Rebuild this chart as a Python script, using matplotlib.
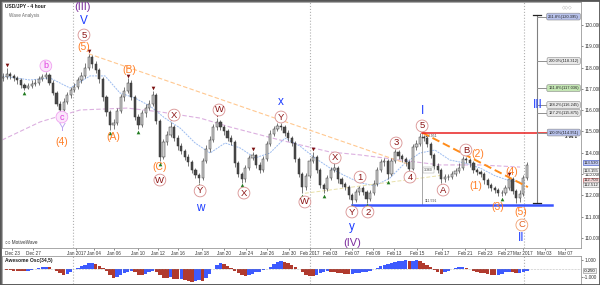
import matplotlib
matplotlib.use("Agg")
import matplotlib.pyplot as plt
from matplotlib.patches import Rectangle

plt.rcParams['font.family'] = ['Liberation Sans', 'DejaVu Sans']

# USD/JPY, 8-hour steps (Dec 22 2016 - Mar 01 2017)
closes = [117.55, 117.70, 117.60, 117.50, 117.40, 117.20, 117.05, 117.15, 117.25, 117.30,
          117.45, 117.55, 117.65, 117.30, 116.80, 116.30, 116.00, 116.40, 116.70, 116.95,
          117.10, 117.40, 117.60, 118.00, 118.50, 118.15, 117.90, 117.45, 116.60, 115.90,
          115.30, 115.40, 115.95, 116.60, 116.90, 117.30, 116.60, 115.70, 115.30, 115.85,
          116.10, 116.30, 116.70, 115.50, 113.80, 114.50, 114.85, 115.20, 114.70, 114.30,
          114.10, 113.80, 113.55, 113.20, 112.95, 112.80, 113.60, 114.20, 114.60, 115.20,
          115.45, 115.20, 115.00, 114.70, 114.50, 113.50, 113.00, 112.75, 113.30, 113.75,
          113.90, 113.45, 113.20, 113.70, 114.40, 114.90, 115.10, 115.25, 115.20, 114.95,
          114.70, 114.45, 113.70, 113.00, 112.40, 112.90, 113.60, 113.80, 113.20, 112.50,
          112.30, 112.80, 113.20, 113.30, 112.75, 112.55, 112.40, 112.00, 111.80, 112.15,
          112.35, 112.15, 111.85, 112.10, 112.55, 113.20, 113.55, 113.60, 113.00, 113.60,
          114.05, 113.85, 113.70, 113.55, 113.25, 114.25, 114.40, 114.75, 114.70, 114.40,
          113.90, 113.40, 113.20, 112.75, 112.85, 112.85, 113.00, 113.15, 113.30, 113.70,
          113.65, 113.50, 113.20, 113.10, 113.00, 112.70, 112.50, 112.35, 112.25, 112.10,
          112.10, 112.35, 112.75, 112.20, 111.90, 112.05, 112.80, 113.45]
highs = [117.75, 117.98, 117.80, 117.70, 117.60, 117.50, 117.30, 117.30, 117.40, 117.45,
         117.60, 117.70, 117.80, 117.75, 117.40, 116.90, 116.45, 116.55, 116.85, 117.10,
         117.30, 117.55, 117.80, 118.20, 118.65, 118.60, 118.30, 118.00, 117.55, 116.70,
         116.00, 115.60, 116.10, 116.75, 117.10, 117.50, 117.40, 116.70, 115.80, 116.00,
         116.30, 116.50, 116.90, 116.80, 115.60, 114.65, 115.00, 115.45, 115.30, 114.85,
         114.45, 114.20, 113.95, 113.65, 113.30, 113.05, 113.75, 114.35, 114.80, 115.35,
         115.65, 115.55, 115.30, 115.10, 114.85, 114.60, 113.60, 113.10, 113.45, 113.90,
         114.05, 113.95, 113.55, 113.85, 114.55, 115.05, 115.25, 115.40, 115.38, 115.30,
         115.05, 114.80, 114.55, 113.80, 113.10, 113.05, 113.75, 114.05, 113.90, 113.30,
         112.60, 112.95, 113.35, 113.55, 113.40, 112.85, 112.65, 112.50, 112.10, 112.30,
         112.45, 112.45, 112.25, 112.25, 112.70, 113.35, 113.70, 113.75, 113.70, 113.75,
         114.20, 114.15, 113.95, 113.80, 113.65, 114.40, 114.60, 114.95, 114.85, 114.80,
         114.50, 114.00, 113.50, 113.30, 113.00, 113.00, 113.15, 113.30, 113.50, 113.85,
         113.80, 113.75, 113.60, 113.30, 113.20, 113.10, 112.80, 112.60, 112.45, 112.35,
         112.25, 112.50, 112.90, 112.85, 112.30, 112.25, 112.95, 113.55]
lows = [117.35, 117.45, 117.45, 117.35, 117.25, 117.05, 116.95, 116.98, 117.05, 117.15,
        117.20, 117.35, 117.45, 117.20, 116.70, 116.20, 115.90, 115.95, 116.30, 116.55,
        116.85, 117.00, 117.30, 117.50, 117.90, 118.00, 117.75, 117.30, 116.45, 115.75,
        115.05, 115.10, 115.30, 115.85, 116.45, 116.80, 116.50, 115.55, 115.10, 115.20,
        115.70, 116.00, 116.20, 115.35, 113.60, 113.70, 114.35, 114.75, 114.55, 114.15,
        113.95, 113.65, 113.40, 113.05, 112.80, 112.60, 112.70, 113.50, 114.05, 114.50,
        115.05, 115.05, 114.85, 114.55, 114.35, 113.35, 112.85, 112.60, 112.65, 113.20,
        113.65, 113.30, 113.05, 113.10, 113.60, 114.30, 114.80, 115.00, 115.05, 114.80,
        114.55, 114.30, 113.55, 112.85, 112.10, 112.25, 112.80, 113.50, 113.05, 112.35,
        112.10, 112.20, 112.70, 113.10, 112.60, 112.40, 112.25, 111.85, 111.60, 111.70,
        112.00, 112.00, 111.65, 111.75, 112.00, 112.45, 113.10, 113.40, 112.75, 112.90,
        113.50, 113.70, 113.55, 113.40, 113.10, 113.20, 114.15, 114.30, 114.55, 114.25,
        113.75, 113.25, 113.05, 112.60, 112.65, 112.70, 112.75, 112.90, 113.05, 113.20,
        113.50, 113.35, 113.05, 112.95, 112.85, 112.55, 112.35, 112.20, 112.10, 111.98,
        111.95, 112.00, 112.25, 112.05, 111.65, 111.70, 111.95, 112.70]
opens = [117.50] + closes[:-1]

# Awesome Oscillator (34,5)
ao = [-0.10, -0.15, -0.20, -0.22, -0.25, -0.28, -0.30, -0.28, -0.20, -0.10,
      0.05, 0.15, 0.20, 0.15, -0.05, -0.30, -0.55, -0.75, -0.60, -0.35,
      -0.10, 0.10, 0.30, 0.45, 0.60, 0.70, 0.55, 0.30, 0.05, -0.30,
      -0.70, -1.05, -1.00, -0.80, -0.55, -0.35, -0.30, -0.45, -0.70, -0.80,
      -0.65, -0.45, -0.30, -0.40, -0.80, -1.05, -1.10, -1.00, -1.15, -1.25,
      -1.15, -1.30, -1.40, -1.50, -1.45, -1.35, -1.40, -1.10, -0.60, -0.10,
      0.40, 0.70, 0.55, 0.30, 0.05, -0.25, -0.55, -0.80, -0.90, -0.80,
      -0.60, -0.45, -0.35, -0.20, -0.05, 0.20, 0.50, 0.75, 0.90, 0.80,
      0.60, 0.40, 0.20, -0.05, -0.40, -0.70, -0.85, -0.90, -0.75, -0.55,
      -0.40, -0.30, -0.35, -0.45, -0.50, -0.55, -0.60, -0.65, -0.60, -0.55,
      -0.50, -0.45, -0.35, -0.25, -0.10, 0.10, 0.30, 0.45, 0.50, 0.65,
      0.80, 0.85, 0.90, 0.95, 0.85, 0.90, 1.00, 0.90, 0.70, 0.45,
      0.15, -0.20, -0.45, -0.60, -0.45, -0.25, -0.10, 0.05, 0.15, 0.20,
      0.10, -0.10, -0.30, -0.40, -0.50, -0.55, -0.65, -0.75, -0.80, -0.80,
      -0.65, -0.45, -0.35, -0.45, -0.55, -0.50, -0.35, -0.25]

# bar positions of the date labels
date_pos = [2.5, 8.4, 20.5, 25.6, 31.1, 37.9, 43.5, 49.1, 55.8, 62.0, 68.2, 74.1, 80.2,
            86.1, 91.7, 97.9, 103.8, 109.7, 116.2, 123.2, 129.6, 135.3, 140.9, 146.0,
            152.0, 157.8]
date_lbl = ['Dec 23', 'Dec 27', 'Jan 2017', 'Jan 04', 'Jan 06', 'Jan 10', 'Jan 12',
            'Jan 16', 'Jan 18', 'Jan 20', 'Jan 24', 'Jan 26', 'Jan 30', 'Feb 2017',
            'Feb 03', 'Feb 07', 'Feb 09', 'Feb 13', 'Feb 15', 'Feb 17', 'Feb 21',
            'Feb 23', 'Feb 27', 'Mar 2017', 'Mar 03', 'Mar 07']
month_lines = [19.6, 86.2, 146.2]

# pivot markers (bar index)
high_marks = [1, 12, 24, 35, 42, 47, 60, 70, 77, 87, 93, 110, 117, 129, 142]
low_marks = [6, 16, 30, 38, 44, 55, 67, 84, 90, 98, 102, 108, 114, 123, 140]

# moving averages drawn by the platform (bar, price)
ma_long_x = [-0.3, 10.4, 21.6, 34.8, 44.1, 55.3, 63.7, 77.7, 91.7, 100.2, 111.4, 122.6, 133.8, 145.1]
ma_long_y = [114.60, 115.45, 116.01, 116.10, 115.92, 115.63, 115.21, 114.60, 114.04, 113.90,
             113.66, 113.43, 113.43, 113.33]
ma_short_x = [-0.3, 7.5, 13.2, 18.8, 24.4, 28.6, 32.8, 37.0, 41.2, 45.4, 49.7, 53.9, 58.1,
              62.3, 66.5, 70.7, 74.9, 79.1, 83.3, 87.5, 91.7, 96.0, 100.2, 104.4, 108.6,
              112.8, 117.0, 121.2, 125.4, 129.6, 133.8, 138.1, 142.3, 146.5]
ma_short_y = [117.61, 117.42, 117.51, 117.04, 117.61, 117.61, 116.81, 116.57, 116.20, 115.63,
              115.16, 114.46, 113.99, 114.46, 114.23, 113.76, 113.99, 114.69, 114.32, 113.76,
              113.29, 112.92, 112.59, 112.45, 112.82, 113.52, 113.99, 114.13, 113.66, 113.52,
              113.29, 112.92, 112.68, 112.59]

# Elliott wave labels: (bar, price, text, style)
wave_labels = [
    (22.4, 120.85, '(III)', 'purple'), (22.7, 120.19, 'V', 'blue'), (22.7, 119.53, '5', 'circle'),
    (22.7, 118.97, '(5)', 'orange'), (12.0, 118.08, 'b', 'pink'), (16.5, 115.68, 'c', 'pink'),
    (16.5, 115.16, 'Y', 'lilac'), (16.5, 114.51, '(4)', 'orange'), (35.3, 117.89, '(B)', 'orange'),
    (30.8, 114.74, '(A)', 'orange'), (48.0, 115.77, 'X', 'circle'), (44.0, 113.33, '(C)', 'orange'),
    (44.0, 112.72, 'W', 'circle'), (55.3, 112.21, 'Y', 'circle'), (55.3, 111.41, 'w', 'blue'),
    (60.6, 116.01, 'W', 'circle'), (78.0, 116.38, 'x', 'blue'), (78.0, 115.68, 'Y', 'circle'),
    (67.6, 112.11, 'X', 'circle'), (84.7, 111.69, 'W', 'circle'), (93.2, 113.76, 'X', 'circle'),
    (100.2, 112.86, '1', 'circle'), (97.9, 111.22, 'Y', 'circle'), (102.4, 111.22, '2', 'circle'),
    (97.9, 110.52, 'y', 'blue'), (97.9, 109.77, '(IV)', 'purple'), (110.3, 114.46, '3', 'circle'),
    (114.2, 112.86, '4', 'circle'), (117.6, 115.96, 'I', 'blue'), (117.6, 115.26, '5', 'circle'),
    (123.5, 112.25, 'A', 'circle'), (129.9, 114.13, 'B', 'circle'), (133.3, 113.94, '(2)', 'orange'),
    (132.7, 112.44, '(1)', 'orange'), (138.9, 111.46, '(3)', 'orange'), (142.8, 113.10, '(4)', 'orange'),
    (145.4, 111.22, '(5)', 'orange'), (145.6, 110.61, 'C', 'ocircle'), (145.4, 110.00, 'II', 'blue'),
    (150.1, 116.24, 'III', 'blue'),
]

fib_levels = [114.951, 115.875, 116.245, 117.036, 118.312, 120.395]
fib_text = ['100.0%(114.951)', '127.2%(115.875)', '138.2%(116.245)', '161.8%(117.036)',
            '200.0%(118.312)', '261.8%(120.395)']
fib_colors = ['#b8c2ec', '#e8e8e8', '#e8e8e8', '#c4e6b4', '#e8e8e8', '#b8c2ec']

W, H = 600, 285
fig = plt.figure(figsize=(W / 100, H / 100), dpi=100)


def px_axes(l, t, r, b):
    return fig.add_axes([l / W, 1 - b / H, (r - l) / W, (b - t) / H])


ax = px_axes(2, 2, 581, 248)
ax2 = px_axes(2, 256, 581, 284)
x0, x1 = -0.31, 162.2

# candles
n = len(closes)
for i in range(n):
    o, c = opens[i], closes[i]
    up = c >= o
    ax.vlines(i, lows[i], highs[i], color='#444444', lw=0.5, zorder=3)
    ax.bar(i, max(abs(c - o), 0.03), bottom=min(o, c), width=0.62,
           color='#d0d0d0' if up else '#4a4a4a', edgecolor='#333333', lw=0.35, zorder=4)

ax.plot(ma_long_x, ma_long_y, color='#dcb0e0', lw=0.8, ls=(0, (4, 2)), zorder=2)
ax.plot(ma_short_x, ma_short_y, color='#9cbcf0', lw=0.7, ls=(0, (2, 1)), zorder=2)

# trend lines
ax.plot([24, 114], [118.65, 113.45], color='#ffc890', lw=0.8, ls=(0, (4, 2)), zorder=2)
ax.plot([84.7, 123.5], [112.1, 112.95], color='#e8e0a8', lw=0.7, ls=(0, (4, 2)), zorder=2)
ax.plot([117.6, 147.3], [114.95, 112.39], color='#ff8c1a', lw=1.4, ls=(0, (4, 2)), zorder=5)
ax.plot([117.6, 154.1], [114.95, 114.95], color='#e82020', lw=1.1, zorder=5)
ax.plot([97.9, 154.1], [111.55, 111.55], color='#3a55ff', lw=1.8, zorder=5)

# pivot markers
ax.scatter(high_marks, [highs[i] + 0.12 for i in high_marks], marker='v', s=7,
           color='#7a1010', zorder=6, lw=0)
ax.scatter(low_marks, [lows[i] - 0.12 for i in low_marks], marker='^', s=7,
           color='#207a20', zorder=6, lw=0)

styles = {
    'blue': dict(color='#1c3cff', fontsize=8.5),
    'purple': dict(color='#7d2e9e', fontsize=8),
    'orange': dict(color='#ff7f27', fontsize=7.5),
    'lilac': dict(color='#b8a0f0', fontsize=7.5),
}
for xb, yp, t, st in wave_labels:
    if st == 'circle':
        ax.text(xb, yp, t, color='#8b1414', fontsize=6.8, ha='center', va='center', zorder=8,
                bbox=dict(boxstyle='circle,pad=0.15', fc='white', ec='#d89090', lw=0.6))
    elif st == 'ocircle':
        ax.text(xb, yp, t, color='#e06020', fontsize=6.8, ha='center', va='center', zorder=8,
                bbox=dict(boxstyle='circle,pad=0.15', fc='white', ec='#f0a070', lw=0.6))
    elif st == 'pink':
        ax.text(xb, yp, t, color='#e040e0', fontsize=6.5, ha='center', va='center', zorder=8,
                bbox=dict(boxstyle='circle,pad=0.15', fc='#fbe6fb', ec='#f0a0f0', lw=0.6))
    else:
        ax.text(xb, yp, t, ha='center', va='center', zorder=8, **styles[st])

# fibonacci extension tool
fx = 149.9
ax.plot([fx, fx], [111.64, 120.47], color='#808080', lw=0.8, zorder=5)
for yy in (111.64, 120.47):
    ax.plot([fx - 1.2, fx + 1.2], [yy, yy], color='#222222', lw=0.9, zorder=5)
for lv, tx, fc in zip(fib_levels, fib_text, fib_colors):
    ax.plot([fx, 153.6], [lv, lv], color='#909090', lw=0.7, zorder=5)
    ax.text(161.6, lv, tx, fontsize=2.9, ha='right', va='center', color='#222222', zorder=7,
            bbox=dict(boxstyle='round,pad=0.35', fc=fc, ec='#888888', lw=0.4))
ax.text(159.5, 114.72, '3 vs 1', fontsize=3.2, fontweight='bold', ha='center', va='center')

# ruler at wave I
ax.plot([117.6, 117.6], [111.59, 114.95], color='#999999', lw=0.6, zorder=2)
ax.text(118.4, 114.9, '114.951', fontsize=2.5, va='top', color='#444444')
ax.text(118.2, 113.2, '3.360', fontsize=2.5, va='center', color='#444444',
        bbox=dict(boxstyle='square,pad=0.3', fc='white', ec='#999999', lw=0.3))
ax.text(118.4, 111.62, '111.591', fontsize=2.5, va='bottom', color='#444444')

ax.set_xlim(x0, x1)
ax.set_ylim(109.53, 121.08)
ax.yaxis.tick_right()
ax.set_yticks(range(110, 121))
ax.set_yticklabels(['%.3f' % v for v in range(110, 121)])
ax.set_xticks(date_pos)
ax.set_xticklabels(date_lbl)
ax.tick_params(axis='y', labelsize=3.4, length=1.5, width=0.4, pad=0.8, colors='#333333')
ax.tick_params(axis='x', labelsize=3.3, length=1.5, width=0.4, pad=0.8, colors='#333333')

# current price tags on the axis
tags = [(113.53, '113.530', '#c4ccf4', '#3048c0'), (113.16, '113.155', '#f0f0f0', '#888888'),
        (112.70, '112.703', '#f4d8d8', '#c04040'), (112.51, '112.512', '#f0f0f0', '#888888')]
for yv, tx, fc, ec in tags:
    ax.text(1.004, yv, tx, transform=ax.get_yaxis_transform(), fontsize=3.1, va='center',
            ha='left', color='#222222', clip_on=False,
            bbox=dict(boxstyle='square,pad=0.15', fc=fc, ec=ec, lw=0.4))

for a in (ax, ax2):
    for s in a.spines.values():
        s.set_color('#9a9a9a')
        s.set_linewidth(0.6)
    for m in month_lines:
        a.axvline(m, color='#b0b0b0', lw=0.8, ls=':', zorder=1)

ax.text(0.006, 0.992, 'USD/JPY - 4 hour', transform=ax.transAxes, fontsize=3.6,
        fontweight='bold', va='top', color='#222222')
ax.text(0.012, 0.955, 'Wave Analysis', transform=ax.transAxes, fontsize=3.3, va='top',
        color='#666666')
ax.text(0.006, 0.012, '\u25cb\u25cb MotiveWave', transform=ax.transAxes, fontsize=3.3,
        va='bottom', color='#333333')
ax.text(0.985, 0.992, '\u25c7\u25c7\u25c7', transform=ax.transAxes, fontsize=3.3,
        va='top', ha='right', color='#999999')

# oscillator panel
cols = ['#3d5afe' if i == 0 or ao[i] >= ao[i - 1] else '#b03a2e' for i in range(n)]
ax2.bar(range(n), ao, width=0.95, color=cols, lw=0)
ax2.axhline(0, color='#888888', lw=0.4, ls=':')
ax2.set_xlim(x0, x1)
ax2.set_ylim(-1.79, 1.47)
ax2.yaxis.tick_right()
ax2.set_yticks([1, -1])
ax2.set_yticklabels(['1.000', '-1.000'])
ax2.set_xticks([])
ax2.tick_params(axis='y', labelsize=3.4, length=1.5, width=0.4, pad=0.8, colors='#333333')
ax2.text(1.004, ao[-1], '-0.250', transform=ax2.get_yaxis_transform(), fontsize=3.1,
         va='center', ha='left', clip_on=False,
         bbox=dict(boxstyle='square,pad=0.15', fc='#f0f0f0', ec='#888888', lw=0.4))
ax2.text(0.006, 0.93, 'Awesome Osc(34,5)', transform=ax2.transAxes, fontsize=3.6,
         fontweight='bold', va='top', color='#222222')

fig.patches.append(Rectangle((0, 0), 1, 1, transform=fig.transFigure, fill=False,
                             ec='#555555', lw=2))
fig.savefig('out.png', dpi=100)
